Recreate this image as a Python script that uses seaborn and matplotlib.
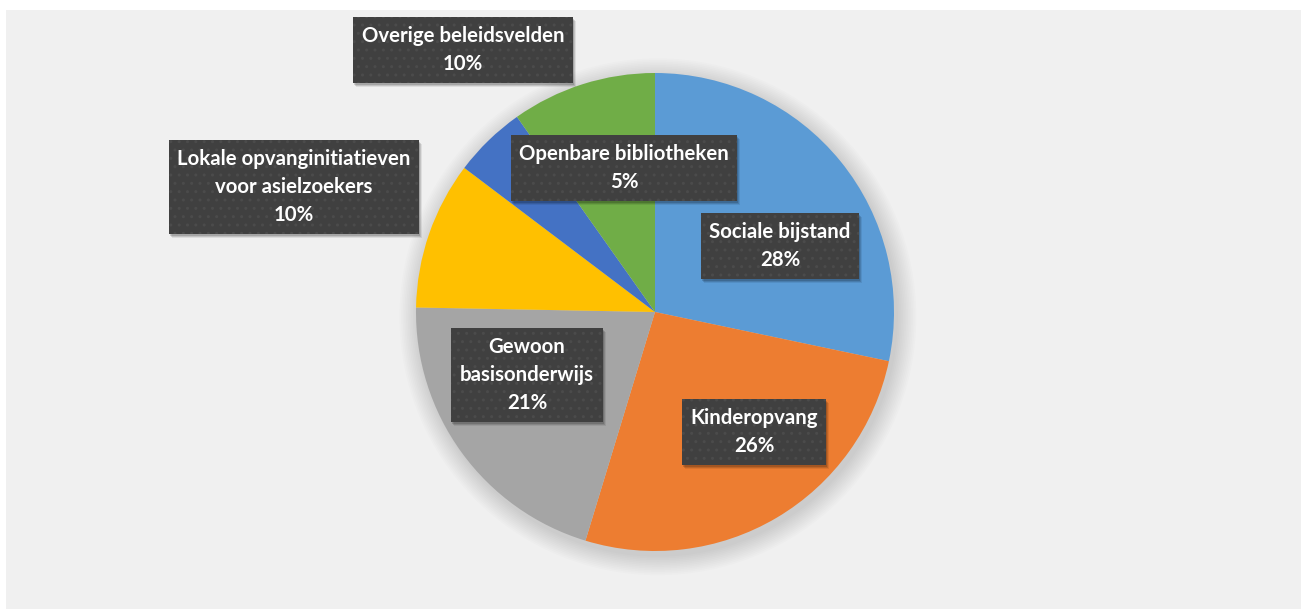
import matplotlib
matplotlib.use("Agg")
import matplotlib.pyplot as plt
import seaborn as sns
from matplotlib.patches import Rectangle, Circle
from matplotlib.transforms import IdentityTransform

sns.set_style("white")
plt.rcParams['font.family'] = ['Lato', 'DejaVu Sans']

# data (share of the pie, %)
categories = ["Sociale bijstand", "Kinderopvang", "Gewoon\nbasisonderwijs",
              "Lokale opvanginitiatieven\nvoor asielzoekers",
              "Openbare bibliotheken", "Overige beleidsvelden"]
shares = [28.3, 26.4, 20.6, 10.0, 4.9, 9.8]
pct_labels = ["28%", "26%", "21%", "10%", "5%", "10%"]
colors = ["#5B9BD5", "#ED7D31", "#A5A5A5", "#FFC000", "#4472C4", "#70AD47"]

# label box centres in pixels of the original picture
label_px = [(780, 246), (754, 432), (527, 375), (294, 187), (624, 168), (463, 50)]

W, H = 1301, 609
fig = plt.figure(figsize=(W / 100, H / 100), dpi=100, facecolor="white")
bg = fig.add_axes([6 / W, 0, 1 - 6 / W, 1 - 10 / H], zorder=-10)
bg.axis("off")
bg.add_patch(Rectangle((0, 0), 1, 1, transform=bg.transAxes,
                       facecolor="#f0f0f0", edgecolor="none"))

cx, cy, R = 655, 312, 240
ax = fig.add_axes([(cx - R) / W, (H - cy - R) / H, 2 * R / W, 2 * R / H])
ax.set_facecolor("none")

# soft shadow behind the pie
for i in range(12):
    ax.add_patch(Circle((0.012, -0.02), 1.0 + i * 0.007, color="black",
                        alpha=0.012, lw=0, zorder=0, clip_on=False))

ax.pie(shares, colors=colors, startangle=90, counterclock=False, radius=239 / 240,
       wedgeprops=dict(linewidth=0))
ax.set_xlim(-1, 1)
ax.set_ylim(-1, 1)
ax.set_aspect("auto")
ax.axis("off")

texts = []
for name, pct, (px, py) in zip(categories, pct_labels, label_px):
    x = (px - cx) / R
    y = (cy - py) / R
    t = ax.text(x, y, name + "\n" + pct, ha="center", va="center",
                fontsize=14.7, fontweight="bold", color="white", linespacing=1.5,
                bbox=dict(boxstyle="square,pad=0.42", facecolor="#404040",
                          edgecolor="#4b4b4b", hatch="..", linewidth=0), zorder=5)
    texts.append(t)

# soft drop shadow under each label box
fig.canvas.draw()
for t in texts:
    bb = t.get_bbox_patch().get_window_extent()
    for k, a in [(4, 0.08), (3, 0.12), (2, 0.15)]:
        ax.add_patch(Rectangle((bb.x0 + k - 1, bb.y0 - k), bb.width, bb.height,
                               transform=IdentityTransform(), facecolor="black",
                               edgecolor="none", alpha=a, zorder=4, clip_on=False))

fig.savefig("out.png", dpi=100, facecolor="white")
